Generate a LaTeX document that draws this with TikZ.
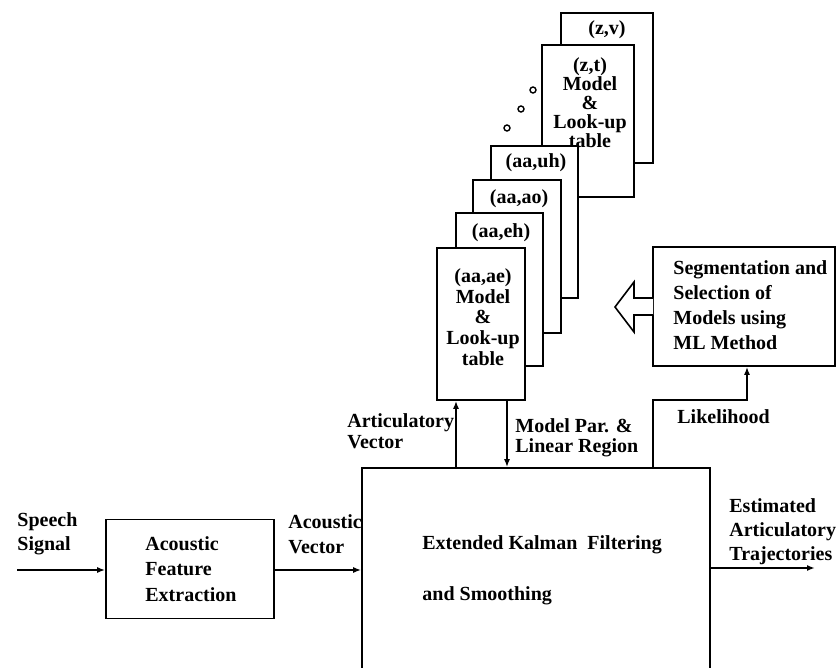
\documentclass[tikz,border=0pt]{standalone}
\usepackage{fontspec}
\setmainfont{Liberation Serif}
\usetikzlibrary{arrows.meta}
\begin{document}
\begin{tikzpicture}[x=0.5pt,y=-0.5pt,
  box/.style={draw, line width=0.8pt, fill=white, inner sep=0pt},
  lbl/.style={inner sep=0pt, align=left, font=\fontsize{10}{#1}\selectfont\bfseries},
  lbl/.default=12pt,
  clbl/.style={inner sep=0pt, align=center, font=\fontsize{10}{#1}\selectfont\bfseries},
  clbl/.default=10pt,
  arr/.style={line width=0.8pt, -{Latex[length=4pt,width=3pt]}},
  ln/.style={line width=0.8pt},
  dot/.style={line width=0.7pt}]
\useasboundingbox (0,0) rectangle (836,668);
\clip (0,0) rectangle (836,668);

% main blocks (multi-line texts are anchored at the baseline of their last line)
\node[box, minimum width=84pt, minimum height=49.5pt] (feat) at (190,569) {};
\node[lbl=12.75pt, anchor=base west] (feattxt) at (145,601) {Acoustic\\Feature\\Extraction};

\node[box, minimum width=174pt, minimum height=116pt] (kal) at (536,584) {};
\node[lbl=25.5pt, anchor=base west] (kaltxt) at (422,600) {Extended Kalman\ \ Filtering\\and Smoothing};

\node[box, minimum width=91pt, minimum height=59.5pt] (seg) at (744,306.5) {};
\node[lbl=12.5pt, anchor=base west] (segtxt) at (673,350) {Segmentation and\\Selection of\\Models using\\ML Method};

% stack of model cards (back to front)
\node[box, minimum width=46pt, minimum height=75pt] (zv) at (607,88) {};
\node[clbl, anchor=base] (zvtxt) at (607,35) {(z,v)};
\node[box, minimum width=46pt, minimum height=76pt] (zt) at (588,121) {};
\node[clbl=9.5pt, anchor=base] (zttxt) at (590,148) {(z,t)\\Model\\\&\\Look-up\\table};

\draw[dot] (533,90) circle[radius=3];
\draw[dot] (521,109) circle[radius=3];
\draw[dot] (507,128) circle[radius=3];

\node[box, minimum width=43.5pt, minimum height=76pt] (uh) at (534.5,222) {};
\node[clbl, anchor=base] (uhtxt) at (536,168) {(aa,uh)};
\node[box, minimum width=44pt, minimum height=76.5pt] (ao) at (517,256.5) {};
\node[clbl, anchor=base] (aotxt) at (519,204) {(aa,ao)};
\node[box, minimum width=43.5pt, minimum height=76.5pt] (eh) at (499.5,289.5) {};
\node[clbl, anchor=base] (ehtxt) at (501,238) {(aa,eh)};
\node[box, minimum width=44pt, minimum height=76pt] (ae) at (481,324) {};
\node[clbl=10.5pt, anchor=base] (aetxt) at (483,366) {(aa,ae)\\Model\\\&\\Look-up\\table};

% hollow arrow from selection block to stack
\draw[ln, fill=white] (653,298) -- (634,298) -- (634,282) -- (615,307) -- (634,332) -- (634,315) -- (653,315);

% connectors
\coordinate (av) at (456,400);
\coordinate (mp) at (507,400);
\draw[arr] (kal.north -| av) -- (ae.south -| av);
\draw[arr] (ae.south -| mp) -- (kal.north -| mp);
\coordinate (lk1) at (653,400);
\coordinate (lk2) at (747,400);
\draw[arr] (kal.north -| lk1) -- (lk1) -- (lk2) -- (seg.south -| lk2);
\coordinate (sp) at (17,570);
\draw[arr] (sp) -- (sp -| feat.west);
\draw[arr] (feat.east |- sp) -- (sp -| kal.west);
\coordinate (out) at (815,568);
\draw[arr] (kal.east |- out) -- (out);

% labels
\node[lbl=12pt, anchor=base west] (l1) at (17,550) {Speech\\Signal};
\node[lbl=12.5pt, anchor=base west] (l2) at (288,553) {Acoustic\\Vector};
\node[lbl=10.5pt, anchor=base west] (l3) at (347,449) {Articulatory\\Vector};
\node[lbl=10pt, anchor=base west] (l4) at (515,452) {Model Par. \&\\Linear Region};
\node[lbl, anchor=base west] (l5) at (677,423) {Likelihood};
\node[lbl=12pt, anchor=base west] (l6) at (729,560) {Estimated\\Articulatory\\Trajectories};
\end{tikzpicture}
\end{document}
